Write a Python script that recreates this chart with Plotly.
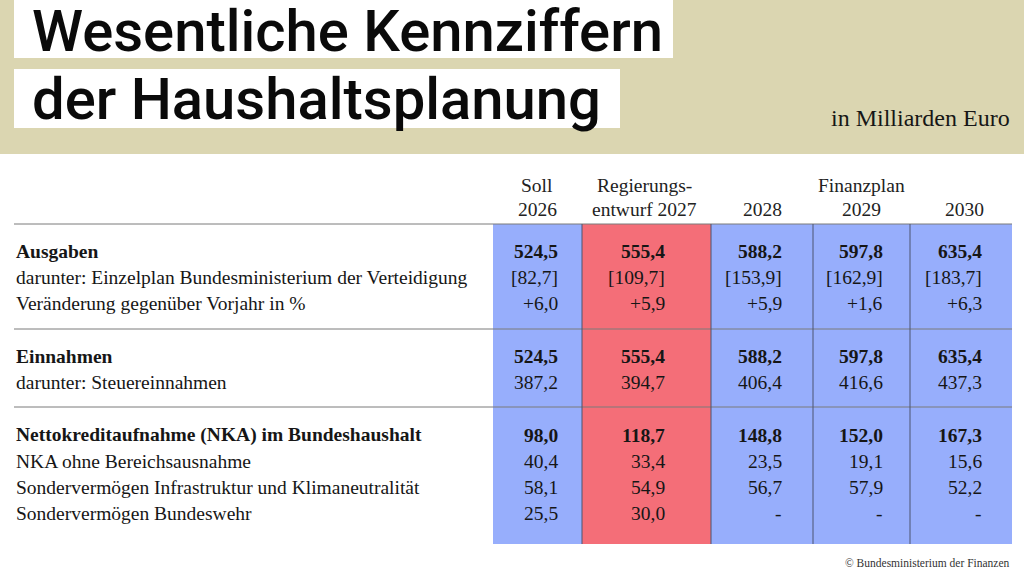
import plotly.graph_objects as go

# ---------------- data ----------------
title_lines = ["Wesentliche Kennziffern", "der Haushaltsplanung"]
unit_label = "in Milliarden Euro"
source_label = "© Bundesministerium der Finanzen"

header_top = ["Soll", "Regierungs-", "", "Finanzplan", ""]
header_bottom = ["2026", "entwurf 2027", "2028", "2029", "2030"]
column_kind = ["soll", "entwurf", "plan", "plan", "plan"]

group_ausgaben_labels = [
    "Ausgaben",
    "darunter: Einzelplan Bundesministerium der Verteidigung",
    "Veränderung gegenüber Vorjahr in %",
]
group_einnahmen_labels = ["Einnahmen", "darunter: Steuereinnahmen"]
group_nka_labels = [
    "Nettokreditaufnahme (NKA) im Bundeshaushalt",
    "NKA ohne Bereichsausnahme",
    "Sondervermögen Infrastruktur und Klimaneutralität",
    "Sondervermögen Bundeswehr",
]

ausgaben = [524.5, 555.4, 588.2, 597.8, 635.4]
bmvg = [82.7, 109.7, 153.9, 162.9, 183.7]
veraenderung = [6.0, 5.9, 5.9, 1.6, 6.3]
einnahmen = [524.5, 555.4, 588.2, 597.8, 635.4]
steuereinnahmen = [387.2, 394.7, 406.4, 416.6, 437.3]
nka = [98.0, 118.7, 148.8, 152.0, 167.3]
nka_ohne = [40.4, 33.4, 23.5, 19.1, 15.6]
sv_infra = [58.1, 54.9, 56.7, 57.9, 52.2]
sv_bw = [25.5, 30.0, None, None, None]


def de(v):
    return "-" if v is None else f"{v:.1f}".replace(".", ",")


def de_bracket(v):
    return "-" if v is None else f"[{de(v)}]"


def de_sign(v):
    return "-" if v is None else ("+" if v >= 0 else "") + de(v)


groups = [
    [
        (group_ausgaben_labels[0], [de(v) for v in ausgaben], True),
        (group_ausgaben_labels[1], [de_bracket(v) for v in bmvg], False),
        (group_ausgaben_labels[2], [de_sign(v) for v in veraenderung], False),
    ],
    [
        (group_einnahmen_labels[0], [de(v) for v in einnahmen], True),
        (group_einnahmen_labels[1], [de(v) for v in steuereinnahmen], False),
    ],
    [
        (group_nka_labels[0], [de(v) for v in nka], True),
        (group_nka_labels[1], [de(v) for v in nka_ohne], False),
        (group_nka_labels[2], [de(v) for v in sv_infra], False),
        (group_nka_labels[3], [de(v) for v in sv_bw], False),
    ],
]

# ---------------- layout / style constants ----------------
W, H = 1024, 576
BEIGE = "#dbd6b1"
KIND_COLOR = {"soll": "#97aefc", "entwurf": "#f46e78", "plan": "#97aefc"}
SERIF = "Liberation Serif"
SANS = "Roboto"
TXT = "#161616"
BODY_SIZE = 19.5

col_edges = [493, 582, 711, 813, 910, 1012]
value_right = [560, 667, 784, 885, 984]
header_center = [537, 644, 762, 861, 964]
table_left = 14
table_top = 224
table_bottom = 544
group_first_y = [251, 356, 435]
row_step = 26.2
separators = [329, 407]

fig = go.Figure()

# column backgrounds as bars
centers = [(a + b) / 2 for a, b in zip(col_edges[:-1], col_edges[1:])]
widths = [b - a for a, b in zip(col_edges[:-1], col_edges[1:])]
fig.add_trace(go.Bar(
    x=centers, y=[table_bottom - table_top] * len(centers), base=table_top,
    width=widths, marker=dict(color=[KIND_COLOR[k] for k in column_kind], line=dict(width=0)),
    hoverinfo="skip", showlegend=False,
))

shapes = []
# beige header band
shapes.append(dict(type="rect", xref="x", yref="y", x0=0, x1=W, y0=0, y1=154,
                   fillcolor=BEIGE, line=dict(width=0), layer="below"))
# white title boxes
shapes.append(dict(type="rect", xref="x", yref="y", x0=14, x1=673, y0=0, y1=58,
                   fillcolor="white", line=dict(width=0), layer="below"))
shapes.append(dict(type="rect", xref="x", yref="y", x0=14, x1=620, y0=69, y1=128,
                   fillcolor="white", line=dict(width=0), layer="below"))
# horizontal rules
for yy in [table_top] + separators:
    shapes.append(dict(type="line", xref="x", yref="y", x0=table_left, x1=col_edges[-1],
                       y0=yy, y1=yy, line=dict(color="#7a7a7a", width=1), layer="above"))
# vertical column dividers
for xx in col_edges[1:-1]:
    shapes.append(dict(type="line", xref="x", yref="y", x0=xx, x1=xx, y0=table_top,
                       y1=table_bottom, line=dict(color="#4d5570", width=1), layer="above"))

ann = []
# title
ann.append(dict(x=30, y=31, text=title_lines[0], xanchor="left", yanchor="middle",
                font=dict(family=SANS, size=58, color="#0a0a0a", weight=500)))
ann.append(dict(x=30, y=99, text=title_lines[1], xanchor="left", yanchor="middle",
                font=dict(family=SANS, size=58, color="#0a0a0a", weight=500)))
ann.append(dict(x=1012, y=118, text=unit_label, xanchor="right", yanchor="middle",
                font=dict(family=SERIF, size=24, color=TXT)))
# header
for i in range(len(header_bottom)):
    if header_top[i]:
        ann.append(dict(x=header_center[i], y=185, text=header_top[i], xanchor="center",
                        yanchor="middle", font=dict(family=SERIF, size=BODY_SIZE, color="#222")))
    ann.append(dict(x=header_center[i], y=209, text=header_bottom[i], xanchor="center",
                    yanchor="middle", font=dict(family=SERIF, size=BODY_SIZE, color="#222")))
# body
for g, rows in enumerate(groups):
    for r, (label, vals, bold) in enumerate(rows):
        yy = group_first_y[g] + r * row_step
        fnt = dict(family=SERIF, size=BODY_SIZE, color=TXT, weight=700 if bold else 400)
        ann.append(dict(x=table_left, y=yy, text=label, xanchor="left", yanchor="middle", font=fnt))
        for c, v in enumerate(vals):
            ann.append(dict(x=value_right[c], y=yy, text=v, xanchor="right", yanchor="middle", font=fnt))
# source
ann.append(dict(x=1012, y=563, text=source_label, xanchor="right", yanchor="middle",
                font=dict(family=SERIF, size=11.5, color="#333")))

for a in ann:
    a.update(xref="x", yref="y", showarrow=False)

fig.update_layout(
    width=W, height=H, margin=dict(l=0, r=0, t=0, b=0),
    paper_bgcolor="white", plot_bgcolor="white",
    xaxis=dict(range=[0, W], visible=False, fixedrange=True),
    yaxis=dict(range=[H, 0], visible=False, fixedrange=True),
    shapes=shapes, annotations=ann, showlegend=False,
)

fig.write_html(
    "out.html",
    config={"displayModeBar": False},
    post_script="document.body.style.margin='0';document.body.style.overflow='hidden';",
)
